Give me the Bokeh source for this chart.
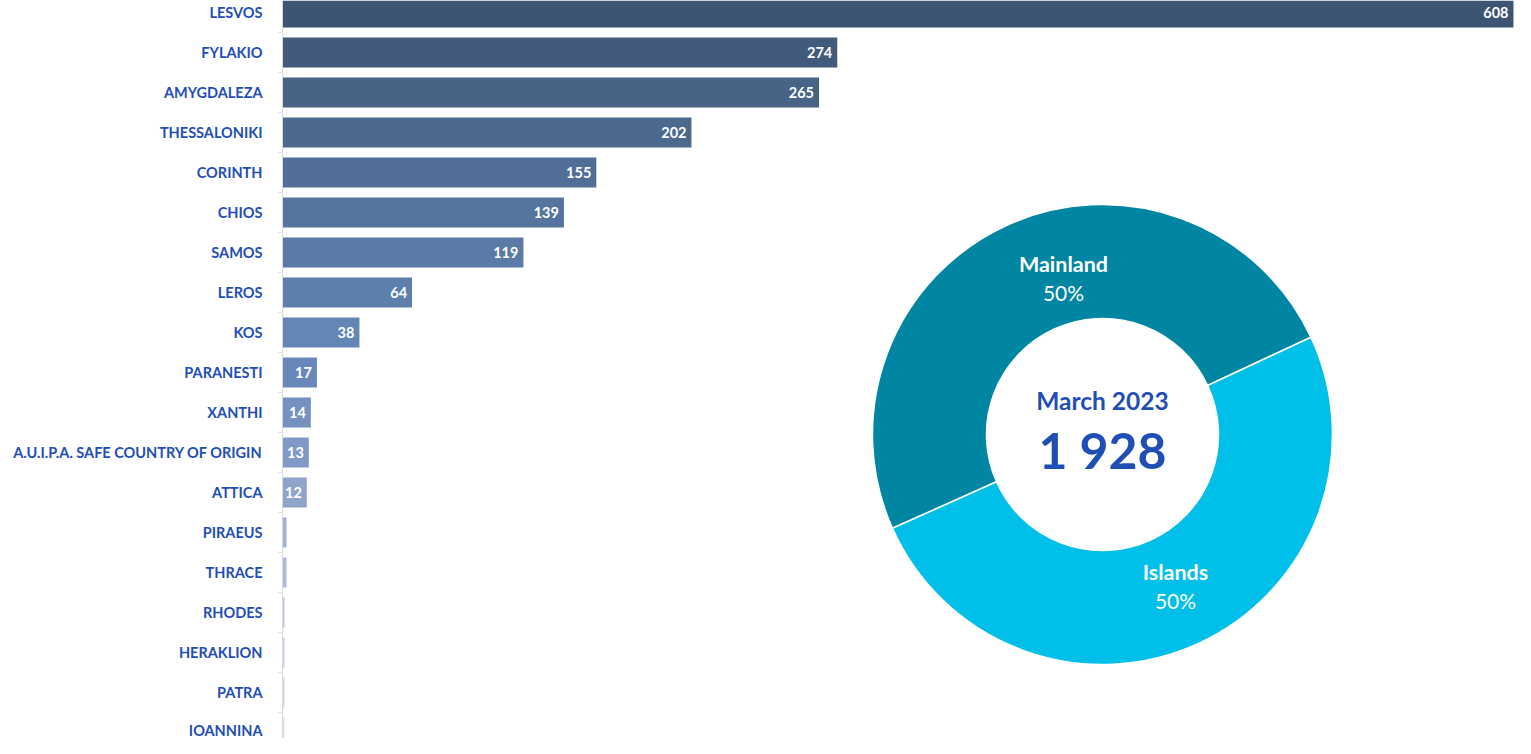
import math
from bokeh.plotting import figure
from bokeh.models import Range1d, LinearAxis, FixedTicker, ColumnDataSource
from bokeh.core.properties import value
from bokeh.embed import file_html
from bokeh.resources import INLINE

# ---- data ----
locations = ["LESVOS", "FYLAKIO", "AMYGDALEZA", "THESSALONIKI", "CORINTH", "CHIOS",
             "SAMOS", "LEROS", "KOS", "PARANESTI", "XANTHI",
             "A.U.I.P.A. SAFE COUNTRY OF ORIGIN", "ATTICA", "PIRAEUS", "THRACE",
             "RHODES", "HERAKLION", "PATRA", "IOANNINA"]
counts = [608, 274, 265, 202, 155, 139, 119, 64, 38, 17, 14, 13, 12, 2, 2, 1, 1, 1, 1]
bar_colors = ["#3d5573", "#425b7c", "#476386", "#4c698e", "#516f96", "#55759e",
              "#5a7ba5", "#5d7fac", "#6386b4", "#6888b9", "#7491c0", "#8199c6",
              "#8fa4cb", "#a1b3d4", "#acbdda", "#bac8e0", "#c5d0e5", "#cfd8ea", "#dbe1ef"]
label_min = 10  # values below are not labelled

regions = ["Mainland", "Islands"]
region_counts = [959, 969]
region_colors = ["#0086a3", "#00bfe8"]
period = "March 2023"
total = sum(counts)

FONT = "Lato"
BLUE = "#1f4eb4"

idx = list(range(len(locations)))

p = figure(width=1515, height=738, output_backend="svg", toolbar_location=None,
           x_range=Range1d(0, 609), y_range=Range1d(18.15, -0.3),
           min_border_left=282, min_border_right=0, min_border_top=0, min_border_bottom=0,
           x_axis_location=None, y_axis_location=None)
p.outline_line_color = None
p.grid.visible = False
p.background_fill_color = "white"
p.border_fill_color = "white"

yaxis = LinearAxis(ticker=FixedTicker(ticks=idx, minor_ticks=[i + 0.5 for i in range(-1, len(idx))]),
                   major_label_overrides={i: n for i, n in enumerate(locations)})
yaxis.axis_line_color = "#d9d9d9"
yaxis.major_tick_line_color = None
yaxis.major_tick_out = 0
yaxis.major_tick_in = 0
yaxis.minor_tick_line_color = "#e3e3e3"
yaxis.minor_tick_out = 5
yaxis.minor_tick_in = 0
yaxis.major_label_standoff = 15
yaxis.major_label_text_font = FONT
yaxis.major_label_text_font_style = "bold"
yaxis.major_label_text_font_size = "14.5px"
yaxis.major_label_text_color = BLUE
p.add_layout(yaxis, "left")

src = ColumnDataSource(dict(y=idx, v=counts, c=bar_colors,
                            lab=[str(v) if v >= label_min else "" for v in counts]))
p.hbar(y="y", left=0, right="v", height=0.75, fill_color="c", line_color=None, source=src)
p.text(x="v", y="y", text="lab", source=src, x_offset=-5, text_align="right",
       text_baseline="middle", text_color="white", text_font=value(FONT),
       text_font_style="bold", text_font_size="14.5px")

# ---- donut ----
cx, cy = 405, 10.55
start_deg = 25.0
angles = []
a = math.radians(start_deg)
for v in region_counts:
    span = 2 * math.pi * v / sum(region_counts)
    angles.append((a, a + span))
    a += span
dsrc = ColumnDataSource(dict(s=[x[0] for x in angles], e=[x[1] for x in angles], c=region_colors))
p.annular_wedge(x=cx, y=cy, inner_radius=116, outer_radius=230,
                inner_radius_units="screen", outer_radius_units="screen",
                start_angle="s", end_angle="e", fill_color="c",
                line_color="white", line_width=1.5, source=dsrc)

# labels
label_offsets = [(-39, -157), (73, 151)]  # screen offsets of slice labels from centre
for name, v, (ox, oy) in zip(regions, region_counts, label_offsets):
    pct = f"{round(100 * v / sum(region_counts))}%"
    p.text(x=[cx], y=[cy], text=[name], x_offset=ox, y_offset=oy - 14,
           text_align="center", text_baseline="middle", text_color="white",
           text_font=value(FONT), text_font_style="bold", text_font_size="21.5px")
    p.text(x=[cx], y=[cy], text=[pct], x_offset=ox, y_offset=oy + 15,
           text_align="center", text_baseline="middle", text_color="white",
           text_font=value(FONT), text_font_size="21px")

p.text(x=[cx], y=[cy], text=[period], y_offset=-34, text_align="center",
       text_baseline="middle", text_color=BLUE, text_font=value(FONT),
       text_font_style="bold", text_font_size="24.5px")
p.text(x=[cx], y=[cy], text=[f"{total:,}".replace(",", " ")], y_offset=15,
       text_align="center", text_baseline="middle", text_color=BLUE,
       text_font=value(FONT), text_font_style="bold", text_font_size="50px")

open("out.html", "w").write(file_html(p, INLINE))
